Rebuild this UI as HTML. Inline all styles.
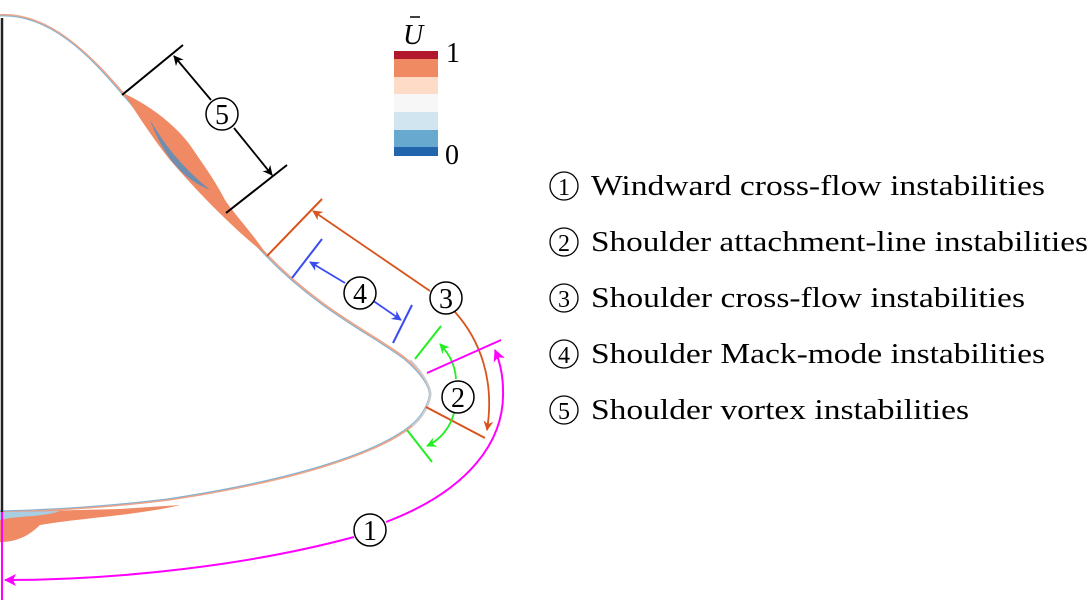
<!DOCTYPE html>
<html><head><meta charset="utf-8"><style>
html,body{margin:0;padding:0;background:#fff;}
svg{display:block;}
text{font-family:"Liberation Serif","Times New Roman",serif;}
</style></head><body>
<svg width="1091" height="607" viewBox="0 0 1091 607" xmlns="http://www.w3.org/2000/svg" font-family="Liberation Serif, serif">
<defs>
<marker id="ak" markerWidth="10" markerHeight="10" refX="9" refY="5" orient="auto" markerUnits="userSpaceOnUse"><path d="M0,0 L10,5 L0,10 L3,5 z" fill="#000"/></marker>
<marker id="ao" markerWidth="10" markerHeight="10" refX="9" refY="5" orient="auto" markerUnits="userSpaceOnUse"><path d="M0,0 L10,5 L0,10 L3,5 z" fill="#d9541c"/></marker>
<marker id="ab" markerWidth="10" markerHeight="10" refX="9" refY="5" orient="auto" markerUnits="userSpaceOnUse"><path d="M0,0 L10,5 L0,10 L3,5 z" fill="#3a4cf0"/></marker>
<marker id="ag" markerWidth="10" markerHeight="10" refX="9" refY="5" orient="auto" markerUnits="userSpaceOnUse"><path d="M0,0 L10,5 L0,10 L3,5 z" fill="#22ee22"/></marker>
<marker id="am" markerWidth="12" markerHeight="12" refX="11" refY="6" orient="auto" markerUnits="userSpaceOnUse"><path d="M0,0 L12,6 L0,12 L3,6 z" fill="#ff00ff"/></marker>
</defs>
<!-- body -->
<path d="M0,15 C50,13 90,55 123,93 C160,135 200,185 267,255 C320,310 375,335 405,358 C425,375 432,390 430,397 C428,407 422,418 412,426 C380,452 300,480 167,500 C100,508 40,511 0,512" fill="none" stroke="#eea488" stroke-width="2"/>
<path d="M0,16 C50,14 90,56 122,94 C159,136 199,186 266,256 C319,311 374,336 404,359 C424,376 431,390 429,397 C427,406 421,417 411,425 C379,451 300,479 167,499 C100,507 40,510 0,511" fill="none" stroke="#7fb2d4" stroke-width="1"/>
<path d="M410,360 C425,375 432,390 430,397 C428,407 422,418 412,426" fill="none" stroke="#ccc" stroke-width="2"/>
<!-- vortex region -->
<path d="M123,93 C150,105 175,125 190,145 C200,160 215,180 225,200 C235,215 250,230 267,255 C240,235 200,195 170,160 C150,135 135,110 123,93 Z" fill="#ef8a64"/>
<path d="M150,120 C165,145 180,165 210,190 C185,180 165,160 150,120 Z" fill="#4d8fc2" opacity="0.8"/>
<!-- wake -->
<path d="M0,512 L120,509 L180,505 C140,515 80,518 40,525 C25,540 10,542 0,542 Z" fill="#ef8a64"/>
<path d="M0,512 L60,511 C40,518 20,515 0,520 Z" fill="#a9cde3"/>
<line x1="2" y1="18" x2="2" y2="512" stroke="#222" stroke-width="2.5"/>
<line x1="2" y1="512" x2="2" y2="600" stroke="#ff00ff" stroke-width="2"/>
<!-- colorbar -->
<rect x="394" y="51" width="44" height="8" fill="#b2182b"/>
<rect x="394" y="59" width="44" height="18" fill="#ef8a62"/>
<rect x="394" y="77" width="44" height="17" fill="#fddbc7"/>
<rect x="394" y="94" width="44" height="18" fill="#f7f7f7"/>
<rect x="394" y="112" width="44" height="18" fill="#d1e5f0"/>
<rect x="394" y="130" width="44" height="17" fill="#67a9cf"/>
<rect x="394" y="147" width="44" height="9" fill="#2166ac"/>
<text x="403" y="44" font-size="28" font-style="italic">U</text>
<line x1="410" y1="17" x2="420" y2="17" stroke="#000" stroke-width="1.5"/>
<text x="446" y="62" font-size="28">1</text>
<text x="445" y="164" font-size="28">0</text>
<!-- 5 -->
<line x1="122" y1="95" x2="183" y2="45" stroke="#000" stroke-width="2"/>
<line x1="226" y1="213" x2="287" y2="165" stroke="#000" stroke-width="2"/>
<line x1="211" y1="100" x2="174" y2="56" stroke="#000" stroke-width="1.8" marker-end="url(#ak)"/>
<line x1="234" y1="128" x2="272" y2="175" stroke="#000" stroke-width="1.8" marker-end="url(#ak)"/>
<circle cx="222" cy="114" r="16" fill="#fff" stroke="#000" stroke-width="1.5"/>
<text x="222" y="124" font-size="28" text-anchor="middle">5</text>
<!-- 3 -->
<line x1="267" y1="256" x2="322" y2="199" stroke="#d9541c" stroke-width="2"/>
<line x1="430" y1="291" x2="313" y2="211" stroke="#d9541c" stroke-width="1.8" marker-end="url(#ao)"/>
<path d="M455,312 C480,340 495,380 487,430" fill="none" stroke="#d9541c" stroke-width="1.8" marker-end="url(#ao)"/>
<line x1="426" y1="407" x2="485" y2="438" stroke="#d9541c" stroke-width="2"/>
<circle cx="446" cy="298" r="16" fill="#fff" stroke="#000" stroke-width="1.5"/>
<text x="446" y="308" font-size="28" text-anchor="middle">3</text>
<!-- 4 -->
<line x1="292" y1="278" x2="322" y2="239" stroke="#3a4cf0" stroke-width="2"/>
<line x1="393" y1="343" x2="412" y2="305" stroke="#3a4cf0" stroke-width="2"/>
<line x1="345" y1="283" x2="310" y2="262" stroke="#3a4cf0" stroke-width="1.8" marker-end="url(#ab)"/>
<line x1="372" y1="300" x2="401" y2="320" stroke="#3a4cf0" stroke-width="1.8" marker-end="url(#ab)"/>
<circle cx="360" cy="293" r="16" fill="#fff" stroke="#000" stroke-width="1.5"/>
<text x="360" y="303" font-size="28" text-anchor="middle">4</text>
<!-- 2 -->
<line x1="415" y1="359" x2="441" y2="326" stroke="#22ee22" stroke-width="2"/>
<line x1="407" y1="430" x2="432" y2="462" stroke="#22ee22" stroke-width="2"/>
<path d="M456,379 C455,365 450,355 440,344" fill="none" stroke="#22ee22" stroke-width="1.8" marker-end="url(#ag)"/>
<path d="M454,413 C450,428 440,440 427,446" fill="none" stroke="#22ee22" stroke-width="1.8" marker-end="url(#ag)"/>
<!-- 1 -->
<line x1="427" y1="373" x2="501" y2="340" stroke="#ff00ff" stroke-width="2"/>
<path d="M386,522 C470,490 505,440 503,390 C503,375 500,362 495,350" fill="none" stroke="#ff00ff" stroke-width="2" marker-end="url(#am)"/>
<path d="M354,537 C250,565 120,580 5,580" fill="none" stroke="#ff00ff" stroke-width="2" marker-end="url(#am)"/>
<circle cx="458" cy="397" r="16" fill="#fff" stroke="#000" stroke-width="1.5"/>
<text x="458" y="407" font-size="28" text-anchor="middle">2</text>
<circle cx="370" cy="530" r="16" fill="#fff" stroke="#000" stroke-width="1.5"/>
<text x="370" y="540" font-size="28" text-anchor="middle">1</text>
<!-- legend -->
<g font-size="28">
<circle cx="564" cy="186" r="14" fill="none" stroke="#000" stroke-width="1.3"/><text x="564" y="195" font-size="24" text-anchor="middle">1</text>
<text x="591" y="195" textLength="454" lengthAdjust="spacingAndGlyphs">Windward cross-flow instabilities</text>
<circle cx="564" cy="242" r="14" fill="none" stroke="#000" stroke-width="1.3"/><text x="564" y="251" font-size="24" text-anchor="middle">2</text>
<text x="591" y="251" textLength="497" lengthAdjust="spacingAndGlyphs">Shoulder attachment-line instabilities</text>
<circle cx="564" cy="298" r="14" fill="none" stroke="#000" stroke-width="1.3"/><text x="564" y="307" font-size="24" text-anchor="middle">3</text>
<text x="591" y="307" textLength="434" lengthAdjust="spacingAndGlyphs">Shoulder cross-flow instabilities</text>
<circle cx="564" cy="354" r="14" fill="none" stroke="#000" stroke-width="1.3"/><text x="564" y="363" font-size="24" text-anchor="middle">4</text>
<text x="591" y="363" textLength="454" lengthAdjust="spacingAndGlyphs">Shoulder Mack-mode instabilities</text>
<circle cx="564" cy="410" r="14" fill="none" stroke="#000" stroke-width="1.3"/><text x="564" y="419" font-size="24" text-anchor="middle">5</text>
<text x="591" y="419" textLength="378" lengthAdjust="spacingAndGlyphs">Shoulder vortex instabilities</text>
</g>
</svg>
</body></html>
